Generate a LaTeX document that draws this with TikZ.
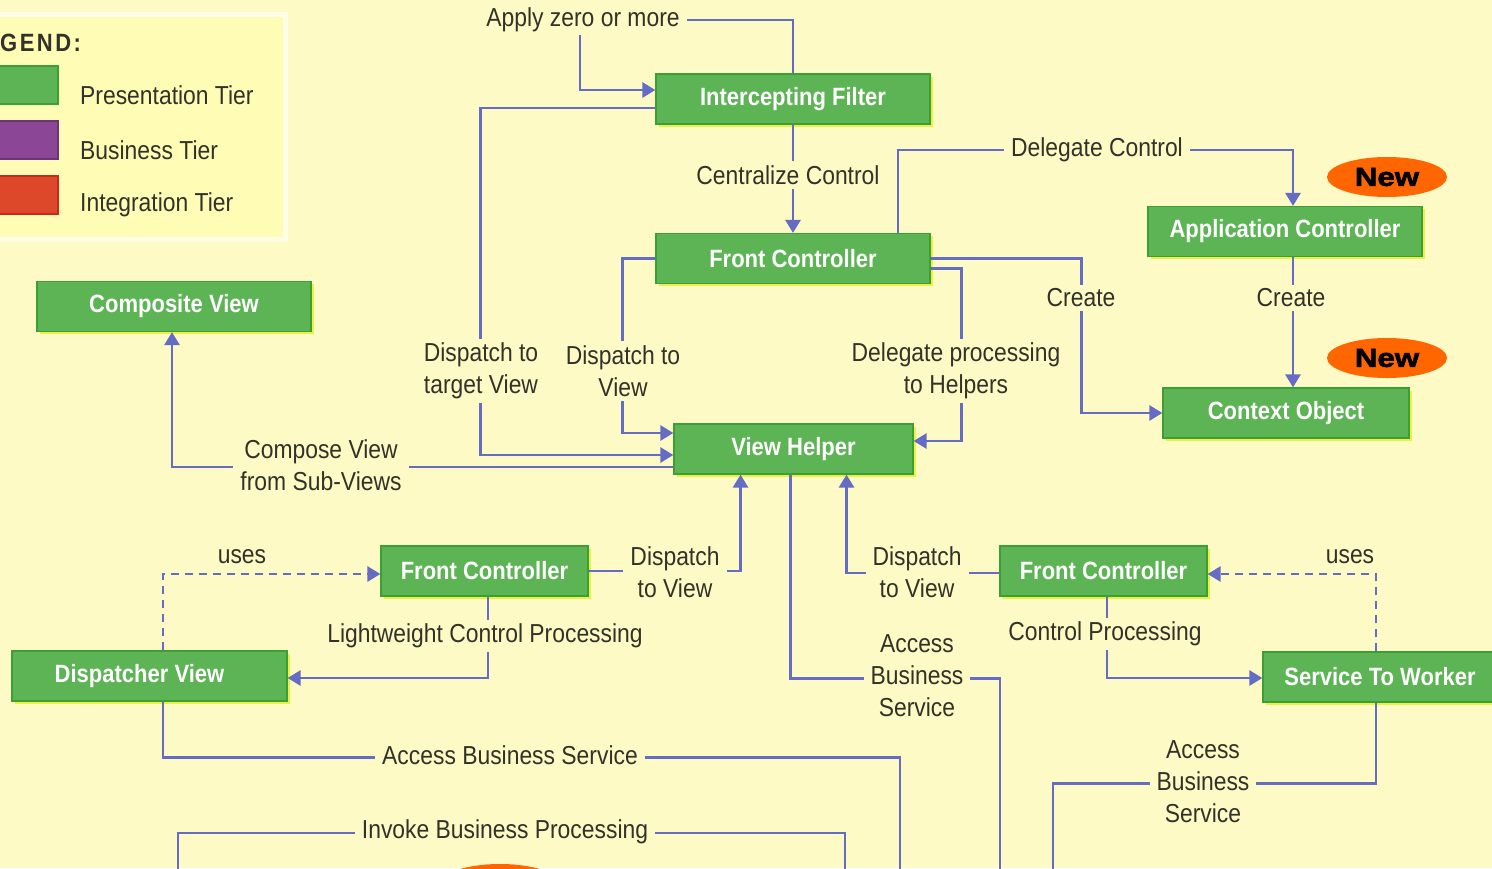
\documentclass[tikz,border=0pt]{standalone}
\usepackage{fontspec}
\setmainfont{Liberation Sans}[FakeStretch=0.88]
\newfontfamily\badgefont{Liberation Sans}[FakeStretch=1.2, FakeBold=2.5]
\usetikzlibrary{arrows.meta,shapes.geometric}
\definecolor{bg}{RGB}{253,250,197}
\definecolor{legfill}{RGB}{255,252,182}
\definecolor{legline}{RGB}{255,253,230}
\definecolor{boxg}{RGB}{92,180,84}
\definecolor{boxb}{RGB}{58,160,52}
\definecolor{glow}{RGB}{236,240,70}
\definecolor{ln}{RGB}{100,108,196}
\definecolor{txt}{RGB}{50,50,40}
\definecolor{neworange}{RGB}{255,102,0}
\definecolor{purp}{RGB}{140,70,150}
\definecolor{purpb}{RGB}{110,50,120}
\definecolor{redt}{RGB}{222,72,42}
\definecolor{redb}{RGB}{200,40,30}
\begin{document}
\begin{tikzpicture}[x=1pt,y=-1pt,
  pbox/.style={draw=boxb, line width=1.2pt, fill=boxg, text=white,
    font=\bfseries\fontsize{25}{28}\selectfont, minimum height=50pt, inner sep=0pt,
    preaction={fill=glow, draw=none, transform canvas={shift={(2.5pt,-2.5pt)}}}},
  lbl/.style={fill=bg, text=txt, font=\fontsize{26}{32}\selectfont, align=center, inner xsep=7pt, inner ysep=4pt},
  plain/.style={text=txt, font=\fontsize{26}{32}\selectfont, align=center, inner xsep=7pt, inner ysep=3pt},
  conn/.style={draw=ln, line width=2.7pt},
  arr/.style={conn, -{Triangle[length=13pt,width=15pt]}},
  usesline/.style={arr, dash pattern=on 8pt off 6pt},
  newell/.style={ellipse, fill=neworange, minimum width=120pt, minimum height=40pt, inner sep=0pt,
    text=black, font=\badgefont\bfseries\fontsize{26}{30}\selectfont},
  swatch/.style={line width=2pt},
  legtext/.style={text=txt, font=\fontsize{26}{30}\selectfont, anchor=west, inner sep=0pt}]

\useasboundingbox (0,0) rectangle (1492,868);
\clip (0,0) rectangle (1492,868);
\fill[bg] (0,0) rectangle (1492,868);

% legend
\draw[draw=legline, line width=5pt, fill=legfill] (-10,14) rectangle (285,239);
\node[text=txt, font=\bfseries\fontsize{25}{28}\selectfont\addfontfeature{LetterSpace=10}, anchor=west, inner sep=0pt] (legtitle) at (0,43) {GEND:};
\draw[swatch, draw=boxb, fill=boxg] (-5,66) rectangle (58,104);
\draw[swatch, draw=purpb, fill=purp] (-5,121) rectangle (58,159);
\draw[swatch, draw=redb, fill=redt] (-5,176) rectangle (58,214);
\node[legtext] (lp) at (80,95) {Presentation Tier};
\node[legtext] (lb) at (80,150) {Business Tier};
\node[legtext] (li) at (80,205) {Integration Tier};

% boxes
\node[pbox, minimum width=274pt] (IF) at (793,99) {Intercepting Filter};
\node[pbox, minimum width=274pt] (FC) at (793,258.5) {Front Controller};
\node[pbox, minimum width=274pt] (AC) at (1285,231.5) {Application Controller};
\node[pbox, minimum width=246pt] (CO) at (1286,413) {Context Object};
\node[pbox, minimum width=274pt] (CV) at (174,306.5) {Composite View};
\node[pbox, minimum width=239pt] (VH) at (793.5,449) {View Helper};
\node[pbox, minimum width=207pt] (FCL) at (484.5,571) {Front Controller};
\node[pbox, minimum width=275pt] (DV) at (149.5,676) {\hspace*{-20pt}Dispatcher View};
\node[pbox, minimum width=234pt] (STW) at (1380,677) {Service To Worker};
\node[pbox, minimum width=207pt] (FCR) at (1103.5,571) {Front Controller};

% New badges
\node[newell] (N1) at (1387,177) {New};
\node[newell] (N2) at (1387,358) {New};
\node[newell] (N3) at (500,884) {};

% free ends at the bottom edge
\coordinate (eL) at (1000,880);
\coordinate (eO) at (900,880);
\coordinate (p1) at (178,880);
\coordinate (p2) at (845,880);
\coordinate (eS) at (1053,880);

% connectors
\node[plain] (Lapply) at (583,20) {Apply zero or more};
\draw[conn] (IF.north) |- (Lapply.east);
\draw[arr] ([xshift=-3pt]Lapply.south) |- ([yshift=9pt]IF.west);
\draw[arr] ([yshift=-9pt]IF.west) -- ++(-175,0) |- ([yshift=-6pt]VH.west);
\draw[arr] (IF.south) -- (FC.north);
\draw[arr] ([xshift=105pt]FC.north) -- ++(0,-83) -| ([xshift=8pt]AC.north);
\draw[arr] (FC.west) -- ++(-33,0) |- ([yshift=16pt]VH.west);
\draw[arr] ([yshift=-10pt]FC.east) -- ++(31,0) |- ([yshift=8pt]VH.east);
\draw[arr] (FC.east) -- ++(151,0) |- (CO.west);
\draw[arr] ([xshift=8pt]AC.south) -- ([xshift=7pt]CO.north);
\draw[arr] ([yshift=-18pt]VH.west) -| ([xshift=-2pt]CV.south);
\draw[arr] (FCL.east) -| ([xshift=-53pt]VH.south);
\draw[arr] ([yshift=-2pt]FCR.west) -| ([xshift=53pt]VH.south);
\draw[conn] ([xshift=-3pt]VH.south) -- ++(0,204) -| (eL);
\draw[usesline] ([xshift=13.5pt]DV.north) |- ([yshift=-3pt]FCL.west);
\draw[arr] ([xshift=3.5pt]FCL.south) |- ([yshift=-2pt]DV.east);
\draw[conn] ([xshift=13.5pt]DV.south) -- ++(0,56) -| (eO);
\draw[conn] (p1) -- ++(0,-47) -| (p2);
\draw[usesline] ([xshift=-4pt]STW.north) |- ([yshift=-3pt]FCR.east);
\draw[arr] ([xshift=3.5pt]FCR.south) |- ([yshift=-1pt]STW.west);
\draw[conn] ([xshift=-4pt]STW.south) -- ++(0,81) -| (eS);

% labels
\node[lbl] (Ldt) at (481,371) {Dispatch to\\target View};
\node[lbl] (Lcc) at (788,175) {Centralize Control};
\node[lbl] (Ldc) at (1097,150) {Delegate Control};
\node[lbl] (Ldv) at (623,371) {Dispatch to\\View};
\node[lbl] (Ldp) at (956,371) {Delegate processing\\to Helpers};
\node[lbl] (Lcr1) at (1081,298) {Create};
\node[lbl] (Lcr2) at (1291,298) {Create};
\node[lbl] (Lcomp) at (321,465) {Compose View\\from Sub-Views};
\node[lbl] (Ldv2) at (675,572) {Dispatch\\to View};
\node[lbl] (Ldv3) at (917,572) {Dispatch\\to View};
\node[lbl] (Labs1) at (917,676) {Access\\Business\\Service};
\node[plain] (Luses1) at (242,557) {uses};
\node[lbl] (Llcp) at (485,636) {Lightweight Control Processing};
\node[lbl] (Labs2) at (510,755) {Access Business Service};
\node[lbl] (Libp) at (505,832) {Invoke Business Processing};
\node[plain] (Luses2) at (1350,557) {uses};
\node[lbl] (Lcp) at (1105,634) {Control Processing};
\node[lbl] (Labs3) at (1203,782) {Access\\Business\\Service};
\end{tikzpicture}
\end{document}
